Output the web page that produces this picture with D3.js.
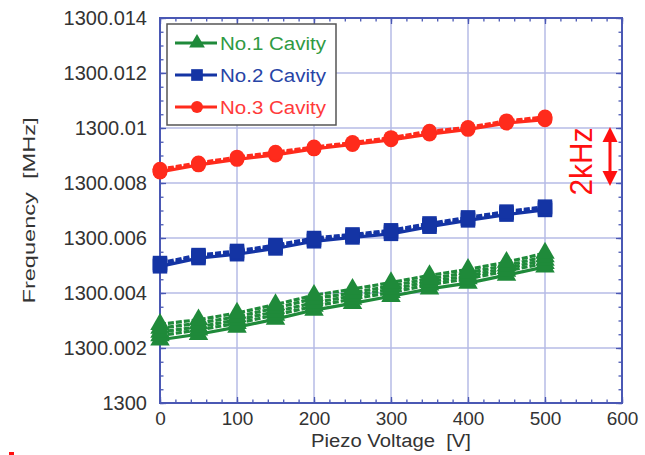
<!DOCTYPE html>
<html>
<head>
<meta charset="utf-8">
<script src="https://cdn.jsdelivr.net/npm/d3@7"></script>
<style>
  html, body { margin: 0; padding: 0; background: #fff; }
  svg { display: block; font-family: "Liberation Sans", Arial, sans-serif; }
  svg text { white-space: pre; }
</style>
</head>
<body>
<svg id="chart" width="645" height="455"></svg>
<script>
// Piezo voltage sweep points [V]
const voltage = [0, 50, 100, 150, 200, 250, 300, 350, 400, 450, 500];

// Resonance frequency [MHz], several sweeps per cavity
const cavity1Runs = [
  [1300.00230, 1300.00250, 1300.00276, 1300.00305, 1300.00338, 1300.00362, 1300.00388, 1300.00415, 1300.00436, 1300.00465, 1300.00495],
  [1300.00245, 1300.00266, 1300.00290, 1300.00320, 1300.00352, 1300.00378, 1300.00402, 1300.00430, 1300.00452, 1300.00480, 1300.00508],
  [1300.00258, 1300.00277, 1300.00302, 1300.00332, 1300.00365, 1300.00389, 1300.00414, 1300.00441, 1300.00462, 1300.00490, 1300.00520],
  [1300.00272, 1300.00290, 1300.00314, 1300.00345, 1300.00380, 1300.00400, 1300.00426, 1300.00452, 1300.00474, 1300.00500, 1300.00532],
  [1300.00286, 1300.00303, 1300.00327, 1300.00358, 1300.00392, 1300.00414, 1300.00438, 1300.00464, 1300.00486, 1300.00512, 1300.00545]
];
const cavity2Runs = [
  [1300.00497, 1300.00527, 1300.00541, 1300.00562, 1300.00588, 1300.00602, 1300.00615, 1300.00641, 1300.00664, 1300.00685, 1300.00702],
  [1300.00503, 1300.00533, 1300.00547, 1300.00568, 1300.00594, 1300.00608, 1300.00622, 1300.00647, 1300.00670, 1300.00691, 1300.00708],
  [1300.00509, 1300.00538, 1300.00553, 1300.00574, 1300.00600, 1300.00613, 1300.00628, 1300.00653, 1300.00675, 1300.00696, 1300.00714]
];
const cavity3Runs = [
  [1300.00840, 1300.00866, 1300.00886, 1300.00902, 1300.00924, 1300.00940, 1300.00957, 1300.00978, 1300.00995, 1300.01018, 1300.01030],
  [1300.00845, 1300.00870, 1300.00890, 1300.00908, 1300.00927, 1300.00944, 1300.00962, 1300.00984, 1300.00999, 1300.01023, 1300.01036],
  [1300.00850, 1300.00873, 1300.00894, 1300.00912, 1300.00931, 1300.00947, 1300.00965, 1300.00988, 1300.01002, 1300.01026, 1300.01040]
];

const seriesNames = ["No.1 Cavity", "No.2 Cavity", "No.3 Cavity"];
const xTickValues = [0, 100, 200, 300, 400, 500, 600];
const xTickLabels = ["0", "100", "200", "300", "400", "500", "600"];
const yTickValues = [1300, 1300.002, 1300.004, 1300.006, 1300.008, 1300.01, 1300.012, 1300.014];
const yTickLabels = ["1300", "1300.002", "1300.004", "1300.006", "1300.008", "1300.01", "1300.012", "1300.014"];
const xTitle = "Piezo Voltage  [V]";
const yTitle = "Frequency  [MHz]";
const spanLabel = "2kHz";

const svg = d3.select("#chart");
const plotLeft = 160, plotRight = 622, plotTop = 18, plotBottom = 403;

const x = d3.scaleLinear().domain([0, 600]).range([plotLeft, plotRight]);
const y = d3.scaleLinear().domain([1300, 1300.014]).range([plotBottom, plotTop]);

const frameColor = "#4a58b4";
const gridColor = "#b6bbe6";
const labelColor = "#333";

// grid
const grid = svg.append("g");
grid.selectAll("line.gx").data(xTickValues.slice(1, -1)).join("line")
  .attr("x1", d => x(d)).attr("x2", d => x(d))
  .attr("y1", plotTop).attr("y2", plotBottom)
  .attr("stroke", gridColor).attr("stroke-width", 1.5);
grid.selectAll("line.gy").data(yTickValues.slice(1, -1)).join("line")
  .attr("x1", plotLeft).attr("x2", plotRight)
  .attr("y1", d => y(d)).attr("y2", d => y(d))
  .attr("stroke", gridColor).attr("stroke-width", 1.5);

// inward ticks on all four sides
const xMinor = d3.range(0, 601, 20);
const yMinor = d3.range(0, 29).map(i => 1300 + i * 0.0005);
function tickAxis(axisFn, scale, values, size, tr) {
  const g = svg.append("g").attr("transform", tr)
    .call(axisFn(scale).tickValues(values).tickSize(size).tickSizeOuter(0).tickFormat(""));
  g.select(".domain").remove();
  g.selectAll("line").attr("stroke", frameColor).attr("stroke-width", 1.3);
  return g;
}
tickAxis(d3.axisBottom, x, xMinor, -3.5, `translate(0,${plotBottom})`);
tickAxis(d3.axisBottom, x, xTickValues, -6, `translate(0,${plotBottom})`);
tickAxis(d3.axisTop, x, xMinor, -3.5, `translate(0,${plotTop})`);
tickAxis(d3.axisTop, x, xTickValues, -6, `translate(0,${plotTop})`);
tickAxis(d3.axisLeft, y, yMinor, -3.5, `translate(${plotLeft},0)`);
tickAxis(d3.axisLeft, y, yTickValues, -6, `translate(${plotLeft},0)`);
tickAxis(d3.axisRight, y, yMinor, -3.5, `translate(${plotRight},0)`);
tickAxis(d3.axisRight, y, yTickValues, -6, `translate(${plotRight},0)`);

// frame
svg.append("rect")
  .attr("x", plotLeft).attr("y", plotTop)
  .attr("width", plotRight - plotLeft).attr("height", plotBottom - plotTop)
  .attr("fill", "none").attr("stroke", frameColor).attr("stroke-width", 2);

// tick labels
const xAx = svg.append("g").attr("transform", `translate(0,${plotBottom})`)
  .call(d3.axisBottom(x).tickValues(xTickValues).tickSize(0).tickPadding(9)
    .tickFormat((d, i) => xTickLabels[i]));
xAx.select(".domain").remove();
xAx.selectAll("text").attr("font-size", 19).attr("fill", labelColor)
  .attr("font-family", "Liberation Sans, Arial, sans-serif");

const yAx = svg.append("g").attr("transform", `translate(${plotLeft},0)`)
  .call(d3.axisLeft(y).tickValues(yTickValues).tickSize(0).tickPadding(13)
    .tickFormat((d, i) => yTickLabels[i]));
yAx.select(".domain").remove();
yAx.selectAll("text").attr("font-size", 20).attr("fill", labelColor)
  .attr("font-family", "Liberation Sans, Arial, sans-serif");

// axis titles
svg.append("text")
  .attr("x", x(300)).attr("y", 447)
  .attr("text-anchor", "middle")
  .attr("font-size", 18).attr("fill", labelColor)
  .attr("textLength", 160).attr("lengthAdjust", "spacingAndGlyphs")
  .text(xTitle);
svg.append("text")
  .attr("transform", `translate(35,${(plotTop + plotBottom) / 2}) rotate(-90)`)
  .attr("text-anchor", "middle")
  .attr("font-size", 16).attr("fill", labelColor)
  .attr("textLength", 186).attr("lengthAdjust", "spacingAndGlyphs")
  .text(yTitle);

// series
const series = [
  { runs: cavity1Runs, color: "#1f8a3a", shape: d3.symbolTriangle, size: 165 },
  { runs: cavity2Runs, color: "#1434a4", shape: d3.symbolSquare, size: 210 },
  { runs: cavity3Runs, color: "#ff2b1c", shape: d3.symbolCircle, size: 175 }
];
const line = d3.line().x(d => x(d[0])).y(d => y(d[1]));
const plot = svg.append("g");
series.forEach(s => {
  s.runs.forEach((run, k) => {
    const pts = voltage.map((v, i) => [v, run[i]]);
    plot.append("path").datum(pts)
      .attr("d", line)
      .attr("fill", "none").attr("stroke", s.color)
      .attr("stroke-width", 3.2)
      .attr("stroke-dasharray", k === 0 ? null : "6,2");
  });
  s.runs.forEach(run => {
    plot.selectAll(null).data(voltage.map((v, i) => [v, run[i]])).join("path")
      .attr("transform", d => `translate(${x(d[0])},${y(d[1])})`)
      .attr("d", d3.symbol().type(s.shape).size(s.size))
      .attr("fill", s.color);
  });
});

// legend
const legendColors = ["#2f9a43", "#2744a6", "#ff3a3a"];
const leg = svg.append("g");
leg.append("rect")
  .attr("x", 167).attr("y", 24).attr("width", 169).attr("height", 101)
  .attr("fill", "#fff").attr("stroke", "#555").attr("stroke-width", 1.5);
const legRows = [43, 75, 107];
series.forEach((s, i) => {
  leg.append("line")
    .attr("x1", 175).attr("x2", 217).attr("y1", legRows[i]).attr("y2", legRows[i])
    .attr("stroke", s.color).attr("stroke-width", 3);
  leg.append("path")
    .attr("transform", `translate(197,${legRows[i]})`)
    .attr("d", d3.symbol().type(s.shape).size(s.size * 0.65))
    .attr("fill", s.color);
  leg.append("text")
    .attr("x", 220).attr("y", legRows[i] + 6.5)
    .attr("font-size", 18).attr("fill", legendColors[i])
    .attr("textLength", 106).attr("lengthAdjust", "spacingAndGlyphs")
    .text(seriesNames[i]);
});

// 2 kHz span marker
const spanTop = y(1300.01), spanBottom = y(1300.008);
const red = "#ff1010";
svg.append("line")
  .attr("x1", 610).attr("x2", 610)
  .attr("y1", spanTop + 12).attr("y2", spanBottom - 12)
  .attr("stroke", red).attr("stroke-width", 3);
svg.append("path")
  .attr("d", `M610,${spanTop - 1} L602.5,${spanTop + 14} L617.5,${spanTop + 14} Z`)
  .attr("fill", red);
svg.append("path")
  .attr("d", `M610,${spanBottom + 3} L602.5,${spanBottom - 12} L617.5,${spanBottom - 12} Z`)
  .attr("fill", red);
svg.append("text")
  .attr("transform", `translate(592,${(spanTop + spanBottom) / 2 + 6}) rotate(-90)`)
  .attr("text-anchor", "middle")
  .attr("font-size", 32).attr("fill", red)
  .attr("textLength", 68).attr("lengthAdjust", "spacingAndGlyphs")
  .text(spanLabel);

// small red mark at lower left
svg.append("rect").attr("x", 9).attr("y", 452).attr("width", 5).attr("height", 3).attr("fill", red);
</script>
</body>
</html>
